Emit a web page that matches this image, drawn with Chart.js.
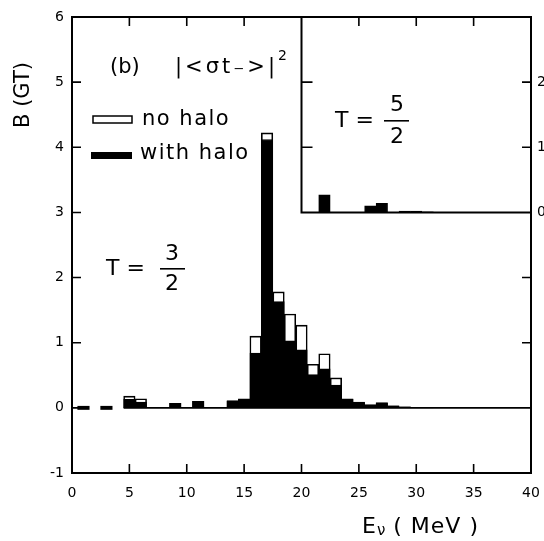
<!DOCTYPE html>
<html><head><meta charset="utf-8">
<script src="https://cdn.jsdelivr.net/npm/chart.js@4.4.0/dist/chart.umd.min.js"></script>
<style>html,body{margin:0;padding:0;background:#fff;} canvas{display:block;}</style>
</head><body>
<canvas id="c" width="544" height="541"></canvas>
<script>
// ---- data ----
const energies = [5, 6, 9, 11, 14, 15, 16, 17, 18, 19, 20, 21, 22, 23, 24, 25, 26, 27, 28, 29, 30, 31];
const noHalo   = [0.18, 0.14, 0.07, 0.10, 0.11, 0.14, 1.10, 4.22, 1.78, 1.44, 1.27, 0.67, 0.83, 0.46, 0.14, 0.09, 0.05, 0.08, 0.03, 0.015, 0.01, 0.01];
const withHalo = [0.13, 0.09, 0.07, 0.10, 0.10, 0.13, 0.84, 4.12, 1.63, 1.03, 0.89, 0.51, 0.60, 0.35, 0.13, 0.08, 0.04, 0.07, 0.03, 0.015, 0.01, 0.01];
const dashEnergies = [1, 3];
const dashHalfHeight = [0.025, 0.025];
const insetEnergies = [22, 26, 27, 29, 30, 31];
const insetValues   = [0.27, 0.10, 0.14, 0.02, 0.02, 0.01];
const zeroLine = [{x: 4.5, y: 0}, {x: 40, y: 0}];
const xTicks = [0, 5, 10, 15, 20, 25, 30, 35, 40];
const yTicks = [-1, 0, 1, 2, 3, 4, 5, 6];
const insetTickValues = [3, 4, 5];
const insetTickLabels = ['0', '1', '2'];
const legendLabels = ['no halo', 'with halo'];

// ---- layout constants ----
const INSET_X0 = 20, INSET_BASE = 3;
const FONT = '"DejaVu Sans", "Liberation Sans", sans-serif';

const decor = {
  id: 'decor',
  afterDraw(chart) {
    const {ctx, chartArea: a, scales: {x, y}} = chart;
    const px = v => x.getPixelForValue(v), py = v => y.getPixelForValue(v);
    ctx.save();
    ctx.strokeStyle = '#000'; ctx.fillStyle = '#000'; ctx.lineWidth = 2;
    // frame
    ctx.strokeRect(a.left, a.top, a.right - a.left, a.bottom - a.top);
    // inset frame
    ctx.beginPath();
    ctx.moveTo(px(INSET_X0), a.top); ctx.lineTo(px(INSET_X0), py(INSET_BASE)); ctx.lineTo(a.right, py(INSET_BASE));
    ctx.stroke();
    // ticks (inward)
    const TL = 9;
    ctx.lineWidth = 1.6;
    ctx.beginPath();
    yTicks.forEach(v => { ctx.moveTo(a.left, py(v)); ctx.lineTo(a.left + TL, py(v)); });
    xTicks.forEach(v => {
      if (v === 0 || v === 40) return;
      ctx.moveTo(px(v), a.bottom); ctx.lineTo(px(v), a.bottom - TL);
      if (v !== INSET_X0) { ctx.moveTo(px(v), a.top); ctx.lineTo(px(v), a.top + TL); }
    });
    [1, 2, 4, 5].forEach(v => { ctx.moveTo(a.right, py(v)); ctx.lineTo(a.right - TL, py(v)); });
    [4, 5].forEach(v => { ctx.moveTo(px(INSET_X0), py(v)); ctx.lineTo(px(INSET_X0) + 11, py(v)); });
    ctx.stroke();
    // inset right-side labels (cut by canvas edge)
    ctx.font = '14px ' + FONT; ctx.textAlign = 'left'; ctx.textBaseline = 'middle';
    insetTickValues.forEach((v, i) => ctx.fillText(insetTickLabels[i], a.right + 6, py(v)));
    // y title
    ctx.save();
    ctx.translate(24, 95); ctx.rotate(-Math.PI / 2);
    ctx.font = '21px ' + FONT; ctx.textAlign = 'center'; ctx.textBaseline = 'middle';
    ctx.fillText('B (GT)', 0, 0);
    ctx.restore();
    // panel label
    ctx.font = '21px ' + FONT; ctx.textAlign = 'left'; ctx.textBaseline = 'middle';
    ctx.fillText('(b)', 110, 68);
    ctx.letterSpacing = '3px';
    ctx.fillText('|<σt\u208B>|', 175, 68);
    const w = ctx.measureText('|<σt\u208B>|').width;
    ctx.letterSpacing = '0px';
    ctx.font = '14px ' + FONT;
    ctx.fillText('2', 175 + w, 56);
    // legend
    ctx.lineWidth = 1.5;
    ctx.fillStyle = '#fff'; ctx.fillRect(93, 116, 39, 7); ctx.strokeRect(93, 116, 39, 7);
    ctx.fillStyle = '#000'; ctx.fillRect(91, 152, 41, 7);
    ctx.font = '21px ' + FONT;
    ctx.letterSpacing = '1.5px';
    ctx.fillText(legendLabels[0], 142, 120);
    ctx.fillText(legendLabels[1], 140, 154);
    ctx.letterSpacing = '0px';
    // T = 3/2
    ctx.font = '22px ' + FONT;
    ctx.fillText('T =', 106, 269);
    ctx.textAlign = 'center';
    ctx.fillText('3', 172, 254); ctx.fillText('2', 172, 284);
    ctx.fillRect(160, 268, 25, 1.6);
    // T = 5/2 (inset)
    ctx.textAlign = 'left';
    ctx.fillText('T =', 335, 121);
    ctx.textAlign = 'center';
    ctx.fillText('5', 397, 105); ctx.fillText('2', 397, 137);
    ctx.fillRect(384, 120, 25, 1.6);
    // x title
    ctx.textAlign = 'left'; ctx.textBaseline = 'alphabetic';
    ctx.font = '22px ' + FONT;
    let xx = 362;
    ctx.fillText('E', xx, 533); xx += ctx.measureText('E').width + 1;
    ctx.font = '15px ' + FONT;
    ctx.fillText('ν', xx, 535); xx += ctx.measureText('ν').width;
    ctx.font = '22px ' + FONT;
    ctx.letterSpacing = '1px';
    ctx.fillText(' ( MeV )', xx, 533);
    ctx.letterSpacing = '0px';
    ctx.restore();
  }
};

const barCommon = {type: 'bar', grouped: false, barPercentage: 1, categoryPercentage: 1};

new Chart(document.getElementById('c'), {
  type: 'bar',
  data: {
    datasets: [
      Object.assign({}, barCommon, {label: 'with halo', order: 0,
        data: energies.map((e, i) => ({x: e, y: withHalo[i]})),
        backgroundColor: '#000', borderColor: '#000', borderWidth: 1}),
      Object.assign({}, barCommon, {label: 'no halo', order: 1,
        data: energies.map((e, i) => ({x: e, y: noHalo[i]})),
        backgroundColor: '#fff', borderColor: '#000', borderWidth: 1.6, borderSkipped: false}),
      Object.assign({}, barCommon, {label: 'dash', order: 0,
        data: dashEnergies.map((e, i) => ({x: e, y: [-dashHalfHeight[i], dashHalfHeight[i]]})),
        backgroundColor: '#000', borderWidth: 0}),
      Object.assign({}, barCommon, {label: 'T=5/2', order: 0,
        data: insetEnergies.map((e, i) => ({x: e, y: [INSET_BASE, INSET_BASE + insetValues[i]]})),
        backgroundColor: '#000', borderColor: '#000', borderWidth: 1}),
      {type: 'line', label: 'zero', order: -1, data: zeroLine, borderColor: '#000', borderWidth: 1.6, pointRadius: 0}
    ]
  },
  options: {
    responsive: false, animation: false,
    layout: {padding: {left: 0, right: 13, top: 17, bottom: 0}},
    plugins: {legend: {display: false}, tooltip: {enabled: false}},
    scales: {
      x: {type: 'linear', min: 0, max: 40, offset: false,
        afterBuildTicks: s => { s.ticks = xTicks.map(v => ({value: v})); },
        afterFit: s => { s.height = 68; s.paddingLeft = 0; s.paddingRight = 0; },
        grid: {display: false, drawTicks: false, offset: false}, border: {display: false},
        ticks: {color: '#000', padding: 12, font: {family: FONT, size: 14}, maxRotation: 0}},
      y: {type: 'linear', min: -1, max: 6,
        afterBuildTicks: s => { s.ticks = yTicks.map(v => ({value: v})); },
        afterFit: s => { s.width = 72; s.paddingTop = 0; s.paddingBottom = 0; },
        grid: {display: false, drawTicks: false}, border: {display: false},
        ticks: {color: '#000', padding: 8, font: {family: FONT, size: 14}}}
    }
  },
  plugins: [decor]
});
</script>
</body></html>
